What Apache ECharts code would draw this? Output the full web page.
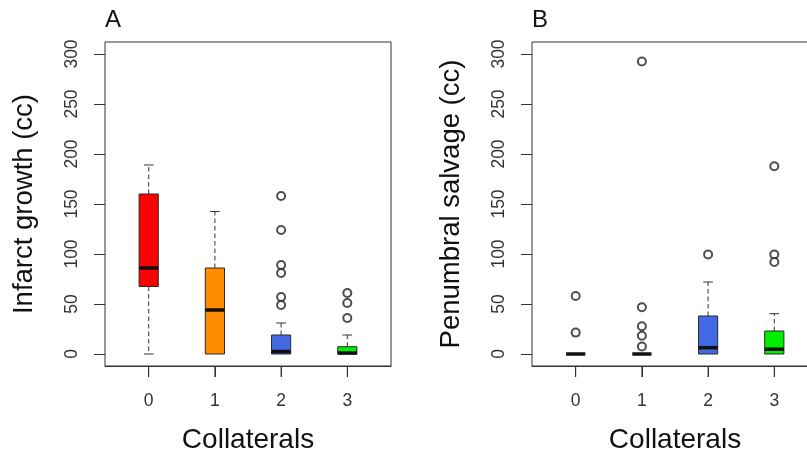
<!DOCTYPE html>
<html>
<head>
<meta charset="utf-8">
<script src="https://cdn.jsdelivr.net/npm/echarts@6/dist/echarts.min.js"></script>
<style>html,body{margin:0;padding:0;background:#fff;}#chart{width:807px;height:463px;}</style>
</head>
<body>
<div id="chart"></div>
<script>
// ---- Data ----
var categories = ['0', '1', '2', '3'];
var yTicks = [0, 50, 100, 150, 200, 250, 300];
var xTicks = [0, 1, 2, 3];
var boxColors = ['#ff0000', '#ff8c00', '#4169e1', '#00ee00'];

// Panel A: Infarct growth (cc)
var growthMin    = [0, 0, 0, 0];
var growthQ1     = [67.5, 0, 0, 0];
var growthMedian = [86, 44, 2.5, 1];
var growthQ3     = [160, 86, 19, 7.3];
var growthMax    = [189, 142.5, 31, 19];
var growthOutliers = [[], [], [158, 124, 89, 81, 57, 49], [61, 51, 36]];

// Panel B: Penumbral salvage (cc)
var salvageMin    = [0, 0, 0, 0];
var salvageQ1     = [0, 0, 0, 0];
var salvageMedian = [0, 0, 6.3, 4.8];
var salvageQ3     = [0, 0, 38, 23];
var salvageMax    = [0, 0, 72, 40.3];
var salvageOutliers = [[58, 21.4], [292.5, 46.8, 27.8, 18.3, 7.5], [99.5], [187.7, 99.5, 92]];

// ---- Build ----
var FONT = "'Liberation Sans', Arial, sans-serif";
var BOX_WEX = 0.29;
var Y_MIN = -12, Y_MAX = 312;
var TICK_LEN = 11;

function boxData(mn, q1, md, q3, mx) {
  return categories.map(function (c, i) { return [i, mn[i], q1[i], md[i], q3[i], mx[i]]; });
}
function outlierData(out) {
  var res = [];
  out.forEach(function (arr, i) { arr.forEach(function (v) { res.push([i, v]); }); });
  return res;
}

function renderBox(params, api) {
  var x = api.value(0);
  var mn = api.value(1), q1 = api.value(2), md = api.value(3), q3 = api.value(4), mx = api.value(5);
  var half = api.size([BOX_WEX, 0])[0] / 2;
  var capHalf = half / 2;
  var pMin = api.coord([x, mn]), pQ1 = api.coord([x, q1]), pMd = api.coord([x, md]),
      pQ3 = api.coord([x, q3]), pMax = api.coord([x, mx]);
  var pBase = api.coord([x, Y_MIN]);
  var cx = pMd[0];
  var children = [];
  var whiskerStyle = { stroke: '#333', lineWidth: 1, lineDash: [4.5, 3] };
  var capStyle = { stroke: '#333', lineWidth: 1 };
  // category tick below the frame
  children.push({ type: 'line', shape: { x1: cx, y1: pBase[1], x2: cx, y2: pBase[1] + TICK_LEN }, style: capStyle });
  if (mx > q3) {
    children.push({ type: 'line', shape: { x1: cx, y1: pQ3[1], x2: cx, y2: pMax[1] }, style: whiskerStyle });
    children.push({ type: 'line', shape: { x1: cx - capHalf, y1: pMax[1], x2: cx + capHalf, y2: pMax[1] }, style: capStyle });
  }
  if (mn < q1) {
    children.push({ type: 'line', shape: { x1: cx, y1: pQ1[1], x2: cx, y2: pMin[1] }, style: whiskerStyle });
    children.push({ type: 'line', shape: { x1: cx - capHalf, y1: pMin[1], x2: cx + capHalf, y2: pMin[1] }, style: capStyle });
  }
  if (q3 > q1) {
    children.push({ type: 'rect', shape: { x: cx - half, y: pQ3[1], width: 2 * half, height: pQ1[1] - pQ3[1] },
      style: { fill: boxColors[params.dataIndex], stroke: '#2a2a2a', lineWidth: 1 } });
  }
  children.push({ type: 'line', shape: { x1: cx - half, y1: pMd[1], x2: cx + half, y2: pMd[1] },
    style: { stroke: '#111', lineWidth: 3.5 } });
  return { type: 'group', children: children };
}

var grids = [
  { left: 105, top: 42, width: 286, height: 324 },
  { left: 532, top: 42, width: 286, height: 324 }
];
var yNames = ['Infarct growth (cc)', 'Penumbral salvage (cc)'];
var titles = ['A', 'B'];

function xAxis(i) {
  return {
    type: 'value', gridIndex: i, min: -0.66, max: 3.66,
    name: 'Collaterals', nameLocation: 'middle', nameGap: 60,
    nameTextStyle: { fontSize: 28, color: '#111', fontFamily: FONT },
    axisLine: { show: true, onZero: false, lineStyle: { color: '#333', width: 1 } },
    axisTick: { show: true, length: TICK_LEN, customValues: xTicks.slice(), lineStyle: { color: '#333', width: 1 } },
    axisLabel: { show: true, customValues: xTicks.slice(), margin: 26.5, fontSize: 17.5, color: '#333', fontFamily: FONT },
    splitLine: { show: false }
  };
}
function yAxis(i) {
  return {
    type: 'value', gridIndex: i, min: Y_MIN, max: Y_MAX,
    name: yNames[i], nameLocation: 'middle', nameGap: 66.5,
    nameTextStyle: { fontSize: 27.5, color: '#111', fontFamily: FONT },
    axisLine: { show: false, onZero: false },
    axisTick: { show: true, length: TICK_LEN, customValues: yTicks.slice(), lineStyle: { color: '#333', width: 1 } },
    axisLabel: { show: true, customValues: yTicks.slice(), rotate: 90, margin: 24, fontSize: 17.5, color: '#333', fontFamily: FONT },
    splitLine: { show: false }
  };
}

var option = {
  backgroundColor: '#fff',
  animation: false,
  title: titles.map(function (t, i) {
    return { text: t, left: grids[i].left, top: 8, padding: 0,
      textStyle: { fontSize: 24, fontWeight: 'normal', color: '#111', fontFamily: FONT } };
  }),
  grid: grids.map(function (g) {
    return Object.assign({ show: true, borderColor: '#333', borderWidth: 1, backgroundColor: 'transparent',
      outerBoundsMode: 'none' }, g);
  }),
  xAxis: [xAxis(0), xAxis(1)],
  yAxis: [yAxis(0), yAxis(1)],
  series: [
    { type: 'custom', xAxisIndex: 0, yAxisIndex: 0, renderItem: renderBox, encode: { x: 0, y: [1, 2, 3, 4, 5] },
      data: boxData(growthMin, growthQ1, growthMedian, growthQ3, growthMax), clip: false },
    { type: 'scatter', xAxisIndex: 0, yAxisIndex: 0, symbol: 'emptyCircle', symbolSize: 8,
      itemStyle: { color: '#222', borderWidth: 1 }, data: outlierData(growthOutliers) },
    { type: 'custom', xAxisIndex: 1, yAxisIndex: 1, renderItem: renderBox, encode: { x: 0, y: [1, 2, 3, 4, 5] },
      data: boxData(salvageMin, salvageQ1, salvageMedian, salvageQ3, salvageMax), clip: false },
    { type: 'scatter', xAxisIndex: 1, yAxisIndex: 1, symbol: 'emptyCircle', symbolSize: 8,
      itemStyle: { color: '#222', borderWidth: 1 }, data: outlierData(salvageOutliers) }
  ]
};

var chart = echarts.init(document.getElementById('chart'), null, { renderer: 'canvas' });
chart.setOption(option);
</script>
</body>
</html>
